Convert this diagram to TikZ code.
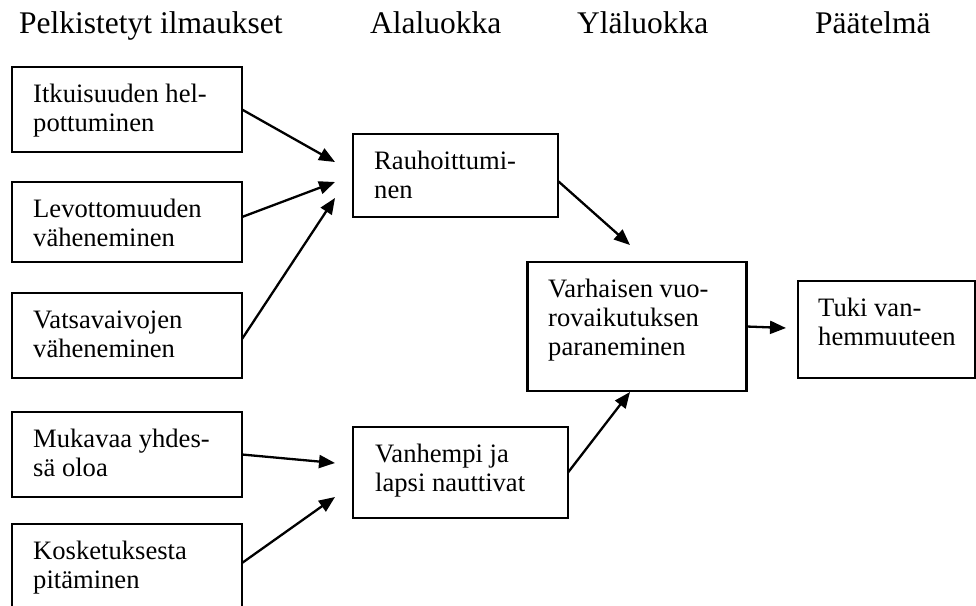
\documentclass[tikz,border=0pt]{standalone}
\usepackage{fontspec}
\setmainfont{Liberation Serif}
\usetikzlibrary{arrows.meta}
\begin{document}
\begin{tikzpicture}[x=1pt,y=-1pt,
  boxnode/.style={draw, line width=2.1pt, anchor=north west, inner sep=0pt, outer sep=0pt},
  lbl/.style={anchor=base west, inner sep=0pt, font=\fontsize{26.6}{29}\selectfont},
  hdr/.style={anchor=base west, inner sep=0pt, font=\fontsize{31.5}{36}\selectfont},
  conn/.style={line width=2.3pt, -{Triangle[length=16pt,width=13pt]}}]
\useasboundingbox (0,0) rectangle (976,605);
\clip (0,0) rectangle (976,605);
% headers
\node[hdr] (h1) at (19,33) {Pelkistetyt ilmaukset};
\node[hdr] (h2) at (370,33) {Alaluokka};
\node[hdr] (h3) at (577,33) {Yläluokka};
\node[hdr] (h4) at (815,33) {Päätelmä};
% boxes
\node[boxnode, minimum width=230pt, minimum height=85pt] (b1) at (12,67) {};
\node[boxnode, minimum width=230pt, minimum height=80pt] (b2) at (12,182) {};
\node[boxnode, minimum width=230pt, minimum height=85pt] (b3) at (12,293) {};
\node[boxnode, minimum width=230pt, minimum height=85pt] (b4) at (12,412) {};
\node[boxnode, minimum width=230pt, minimum height=120pt] (b5) at (12,524) {};
\node[boxnode, minimum width=205pt, minimum height=83pt] (r) at (353,134) {};
\node[boxnode, minimum width=215pt, minimum height=91pt] (v) at (353,427) {};
\node[boxnode, minimum width=219pt, minimum height=129pt] (y) at (527.5,262) {};
\node[boxnode, minimum width=177pt, minimum height=97pt] (t) at (798,281) {};
% texts
\node[lbl] (tb1) at (33,102) {\parbox[t]{200pt}{\raggedright Itkuisuuden hel-\\pottuminen}};
\node[lbl] (tb2) at (33,217) {\parbox[t]{200pt}{\raggedright Levottomuuden\\väheneminen}};
\node[lbl] (tb3) at (33,328) {\parbox[t]{200pt}{\raggedright Vatsavaivojen\\väheneminen}};
\node[lbl] (tb4) at (33,447) {\parbox[t]{200pt}{\raggedright Mukavaa yhdes-\\sä oloa}};
\node[lbl] (tb5) at (33,559) {\parbox[t]{200pt}{\raggedright Kosketuksesta\\pitäminen}};
\node[lbl] (tr) at (374,169) {\parbox[t]{180pt}{\raggedright Rauhoittumi-\\nen}};
\node[lbl] (tv) at (375,462) {\parbox[t]{190pt}{\raggedright Vanhempi ja\\lapsi nauttivat}};
\node[lbl] (ty) at (548,297) {\parbox[t]{195pt}{\raggedright Varhaisen vuo-\\rovaikutuksen\\paraneminen}};
\node[lbl] (tt) at (818,316) {\parbox[t]{155pt}{\raggedright Tuki van-\\hemmuuteen}};
% arrow tips
\coordinate (p1) at (335,162);
\coordinate (p2) at (335,182);
\coordinate (p3) at (335,198);
\coordinate (p4) at (335,463);
\coordinate (p5) at (335,497);
\coordinate (p6) at (630,245);
\coordinate (p7) at (630,392);
\coordinate (p8) at (786,328);
% connectors
\draw[conn] (b1.east) -- (p1);
\draw[conn] ([yshift=5pt]b2.east) -- (p2);
\draw[conn] ([yshift=-3.5pt]b3.east) -- (p3);
\draw[conn] (b4.east) -- (p4);
\draw[conn] ([yshift=21pt]b5.east) -- (p5);
\draw[conn] ([yshift=-5.5pt]r.east) -- (p6);
\draw[conn] (v.east) -- (p7);
\draw[conn] (y.east) -- (p8);
\end{tikzpicture}
\end{document}
